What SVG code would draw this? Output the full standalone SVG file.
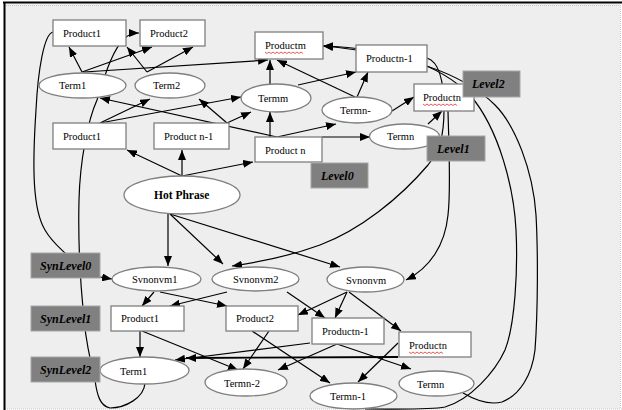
<svg xmlns="http://www.w3.org/2000/svg" width="622" height="410" viewBox="0 0 622 410">
<defs>
<marker id="ah" markerUnits="userSpaceOnUse" markerWidth="10" markerHeight="8" refX="10" refY="4" orient="auto">
<path d="M0,0 L10,4 L0,8 z" fill="#000"/>
</marker>
<style>
.c{fill:none;stroke:#000;stroke-width:1.2;marker-end:url(#ah)}
.cn{fill:none;stroke:#000;stroke-width:1.2}
.b{fill:#fff;stroke:#7f7f7f;stroke-width:1.3}
.lv{fill:#808080;stroke:#a6a6a6;stroke-width:1}
.t{font-family:"Liberation Serif","Times New Roman",serif;font-size:10.5px;fill:#000}
.hp{font-family:"Liberation Serif","Times New Roman",serif;font-size:11.5px;font-weight:bold;fill:#000}
.lt{font-family:"Liberation Serif","Times New Roman",serif;font-size:12px;font-weight:bold;font-style:italic;fill:#000}
.sq{fill:none;stroke:#e03030;stroke-width:0.8}
</style>
</defs>
<rect x="0" y="0" width="622" height="410" fill="#fff"/>
<rect x="5" y="4" width="615" height="405" fill="#eeeeee"/>
<line x1="6" y1="5.5" x2="622" y2="5.5" stroke="#c8c8c8" stroke-width="1" stroke-dasharray="1,1"/>
<line x1="5" y1="409" x2="622" y2="409" stroke="#c8c8c8" stroke-width="1" stroke-dasharray="1,1"/>
<line x1="620.5" y1="5" x2="620.5" y2="409" stroke="#c8c8c8" stroke-width="1" stroke-dasharray="1,1"/>
<line x1="3" y1="2.5" x2="622" y2="2.5" stroke="#000" stroke-width="2"/>
<line x1="4.5" y1="2" x2="4.5" y2="410" stroke="#000" stroke-width="2"/>

<g id="connectors">
<line class="c" x1="82" y1="72" x2="69" y2="47"/>
<line class="c" x1="82" y1="72" x2="152" y2="47"/>
<line class="c" x1="84" y1="72" x2="268" y2="60"/>
<line class="c" x1="147" y1="72" x2="127" y2="47"/>
<line class="c" x1="147" y1="72" x2="193" y2="47"/>
<line class="c" x1="270" y1="84" x2="270" y2="60"/>
<line class="c" x1="355" y1="97" x2="277" y2="60"/>
<line class="c" x1="298" y1="85" x2="356" y2="72"/>
<line class="c" x1="357" y1="97" x2="368" y2="72"/>
<line class="c" x1="392" y1="111" x2="414" y2="97"/>
<line class="c" x1="428" y1="124" x2="442" y2="111"/>
<line class="c" x1="277" y1="137" x2="100" y2="98"/>
<line class="c" x1="270" y1="137" x2="270" y2="112"/>
<line class="c" x1="277" y1="137" x2="336" y2="124"/>
<line class="c" x1="322" y1="137" x2="370" y2="137"/>
<line class="c" x1="100" y1="123" x2="150" y2="99"/>
<line class="c" x1="100" y1="123" x2="241" y2="97"/>
<line class="c" x1="227" y1="123" x2="199" y2="99"/>
<line class="c" x1="227" y1="123" x2="251" y2="112"/>
<line class="c" x1="182" y1="176" x2="127" y2="150"/>
<line class="c" x1="182" y1="176" x2="182" y2="150"/>
<line class="c" x1="182" y1="176" x2="253" y2="162"/>
<line class="c" x1="168" y1="214" x2="168" y2="266"/>
<line class="c" x1="170" y1="214" x2="223" y2="264"/>
<line class="c" x1="170" y1="214" x2="340" y2="267"/>
<line class="c" x1="100" y1="277" x2="112" y2="279"/>
<line class="c" x1="154" y1="292" x2="142" y2="306"/>
<line class="c" x1="160" y1="292" x2="227" y2="306"/>
<line class="c" x1="227" y1="292" x2="170" y2="306"/>
<line class="c" x1="287" y1="292" x2="325" y2="318"/>
<line class="c" x1="347" y1="292" x2="298" y2="315"/>
<line class="c" x1="347" y1="292" x2="335" y2="318"/>
<line class="c" x1="349" y1="292" x2="401" y2="331"/>
<line class="c" x1="140" y1="331" x2="140" y2="357"/>
<line class="c" x1="142" y1="331" x2="238" y2="370"/>
<line class="c" x1="269" y1="331" x2="243" y2="369"/>
<line class="c" x1="252" y1="331" x2="330" y2="383"/>
<line class="c" x1="310" y1="343" x2="175" y2="360"/>
<line class="c" x1="398" y1="357" x2="186" y2="358" style="stroke-width:1.8"/>
<line class="c" x1="337" y1="344" x2="278" y2="370"/>
<line class="c" x1="337" y1="344" x2="411" y2="369"/>
<line class="c" x1="398" y1="343" x2="358" y2="382"/>
<path class="cn" d="M53,32 C44,34 38,70 36,110 C32,170 33,210 45,230 C52,242 60,248 66,254"/>
<path class="c" d="M145,383 C144,398 125,408 110,408 C100,406 97,395 95,380 C90,360 86,340 84,320 C81,290 78,240 79,200 C80,160 88,120 97,100 C105,75 112,50 125,38 C128,35 133,33 139,33"/>
<path class="c" d="M365,409 C400,409 430,410 445,407 C470,400 495,372 505,350 C515,325 518,270 516,230 C514,190 500,130 470,95 C440,65 390,48 323,46"/>
<path class="c" d="M463,393 C475,400 490,405 502,402 C520,395 532,375 535,350 C538,310 538,250 536,215 C533,170 515,125 495,105 C470,80 420,55 323,46"/>
<path class="c" d="M427,58 C440,62 444,85 444,110 C444,135 440,150 428,165 C400,198 360,230 320,245 C290,256 260,262 232,266"/>
<path class="c" d="M448,111 C449,150 451,190 448,215 C445,245 430,268 406,280"/>
</g>

<g id="n-product1-top"><rect class="b" x="53" y="20" width="73" height="26"/><text class="t" x="63" y="37">Product1</text></g>
<g id="n-product2-top"><rect class="b" x="140" y="20" width="65" height="26"/><text class="t" x="150" y="37">Product2</text></g>
<g id="n-productm"><rect class="b" x="255" y="32" width="68" height="27"/><text class="t" x="265" y="49">Productm</text><path class="sq" d="M265,52 l2,1.5 l2,-1.5 l2,1.5 l2,-1.5 l2,1.5 l2,-1.5 l2,1.5 l2,-1.5 l2,1.5 l2,-1.5 l2,1.5 l2,-1.5 l2,1.5 l2,-1.5 l2,1.5 l2,-1.5 l2,1.5 l2,-1.5 l2,1.5"/></g>
<g id="n-productn-1-top"><rect class="b" x="356" y="45" width="71" height="27"/><text class="t" x="366" y="62">Productn-1</text></g>
<g id="n-productn-top"><rect class="b" x="414" y="84" width="60" height="27"/><text class="t" x="423" y="101">Productn</text><path class="sq" d="M423,104 l2,1.5 l2,-1.5 l2,1.5 l2,-1.5 l2,1.5 l2,-1.5 l2,1.5 l2,-1.5 l2,1.5 l2,-1.5 l2,1.5 l2,-1.5 l2,1.5 l2,-1.5 l2,1.5 l2,-1.5 l2,1.5"/></g>
<g id="n-term1-top"><ellipse class="b" cx="82.5" cy="85.5" rx="43.5" ry="12.5"/><text class="t" x="59" y="89">Term1</text></g>
<g id="n-term2-top"><ellipse class="b" cx="170" cy="85.5" rx="35" ry="12.5"/><text class="t" x="153" y="89">Term2</text></g>
<g id="n-termm"><ellipse class="b" cx="276" cy="98" rx="35" ry="14"/><text class="t" x="258" y="102">Termm</text></g>
<g id="n-termn-minus"><ellipse class="b" cx="357" cy="110" rx="35" ry="13"/><text class="t" x="340" y="114">Termn-</text></g>
<g id="n-termn-top"><ellipse class="b" cx="404.5" cy="136.5" rx="35" ry="12.5"/><text class="t" x="387" y="140">Termn</text></g>
<g id="n-product1-mid"><rect class="b" x="53" y="123" width="73" height="26"/><text class="t" x="63" y="140">Product1</text></g>
<g id="n-product-n-1"><rect class="b" x="154" y="123" width="75" height="26"/><text class="t" x="164" y="140">Product n-1</text></g>
<g id="n-product-n"><rect class="b" x="255" y="137" width="67" height="25"/><text class="t" x="265" y="154">Product n</text></g>
<g id="n-hot-phrase"><ellipse class="b" cx="182" cy="195" rx="58" ry="19"/><text class="hp" x="154" y="199">Hot Phrase</text></g>

<g id="n-svnonvm1"><ellipse class="b" cx="156.5" cy="279" rx="44.5" ry="12"/><text class="t" x="132" y="283">Svnonvm1</text></g>
<g id="n-svnonvm2"><ellipse class="b" cx="255.5" cy="279" rx="43.5" ry="12"/><text class="t" x="233" y="283">Svnonvm2</text></g>
<g id="n-svnonvm"><ellipse class="b" cx="365.5" cy="279.5" rx="38.5" ry="12.5"/><text class="t" x="346" y="284">Svnonvm</text></g>
<g id="n-product1-bot"><rect class="b" x="111" y="306" width="73" height="25"/><text class="t" x="121" y="322">Product1</text></g>
<g id="n-product2-bot"><rect class="b" x="226" y="306" width="72" height="25"/><text class="t" x="236" y="322">Product2</text></g>
<g id="n-productn-1-bot"><rect class="b" x="312" y="318" width="72" height="26"/><text class="t" x="322" y="335">Productn-1</text></g>
<g id="n-productn-bot"><rect class="b" x="399" y="332" width="72" height="25"/><text class="t" x="409" y="349">Productn</text><path class="sq" d="M409,352 l2,1.5 l2,-1.5 l2,1.5 l2,-1.5 l2,1.5 l2,-1.5 l2,1.5 l2,-1.5 l2,1.5 l2,-1.5 l2,1.5 l2,-1.5 l2,1.5 l2,-1.5 l2,1.5 l2,-1.5 l2,1.5"/></g>
<g id="n-term1-bot"><ellipse class="b" cx="144.5" cy="370.5" rx="44.5" ry="13.5"/><text class="t" x="120" y="375">Term1</text></g>
<g id="n-termn-2"><ellipse class="b" cx="246" cy="382.5" rx="41" ry="13.5"/><text class="t" x="224" y="387">Termn-2</text></g>
<g id="n-termn-1"><ellipse class="b" cx="353.5" cy="396" rx="43.5" ry="13"/><text class="t" x="330" y="400">Termn-1</text></g>
<g id="n-termn-bot"><ellipse class="b" cx="436.5" cy="383.5" rx="37.5" ry="12.5"/><text class="t" x="417" y="388">Termn</text></g>

<g id="lv-level2"><rect class="lv" x="463" y="71" width="57" height="26"/><text class="lt" x="472" y="88">Level2</text></g>
<g id="lv-level1"><rect class="lv" x="427" y="136" width="58" height="25"/><text class="lt" x="437" y="153">Level1</text></g>
<g id="lv-level0"><rect class="lv" x="311" y="163" width="57" height="25"/><text class="lt" x="321" y="180">Level0</text></g>
<g id="lv-synlevel0"><rect class="lv" x="31" y="253" width="69" height="25"/><text class="lt" x="40" y="270">SynLevel0</text></g>
<g id="lv-synlevel1"><rect class="lv" x="31" y="306" width="69" height="25"/><text class="lt" x="40" y="323">SynLevel1</text></g>
<g id="lv-synlevel2"><rect class="lv" x="31" y="357" width="69" height="25"/><text class="lt" x="40" y="374">SynLevel2</text></g>
</svg>
